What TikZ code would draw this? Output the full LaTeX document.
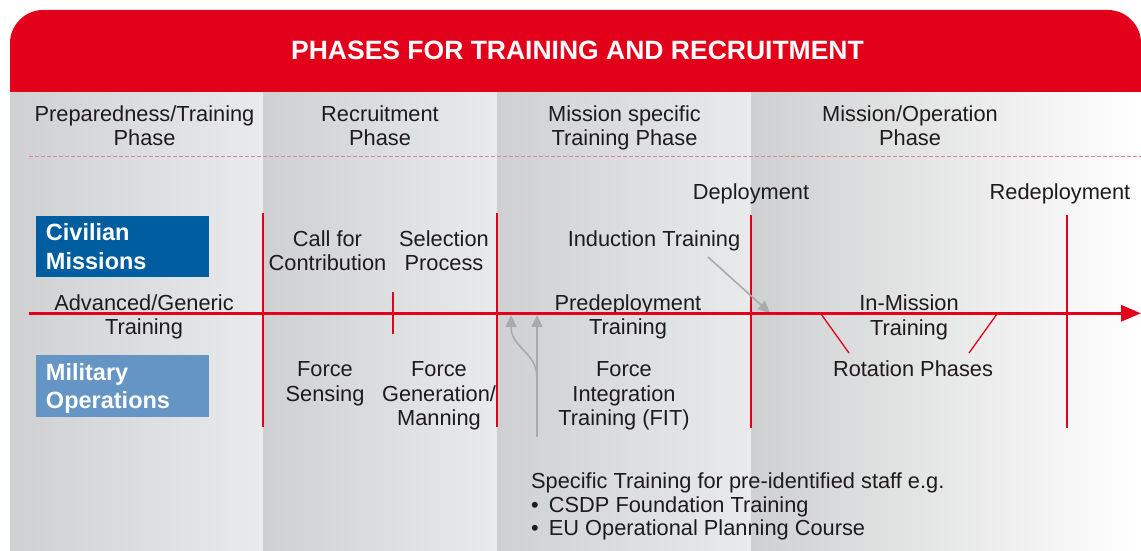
\documentclass[tikz,border=0pt]{standalone}
\usepackage{fontspec}
\setmainfont{Liberation Sans}
\usetikzlibrary{arrows.meta}
\definecolor{ecred}{HTML}{E2001A}
\definecolor{civblue}{HTML}{005DA0}
\definecolor{milblue}{HTML}{6595C4}
\definecolor{colA}{HTML}{CFD0D1}
\definecolor{colB}{HTML}{E9EAEB}
\definecolor{txtc}{HTML}{1F1B1C}
\definecolor{arrgray}{HTML}{A8AAAC}
\definecolor{dashred}{HTML}{E9808C}
\begin{document}
\begin{tikzpicture}[x=1bp,y=-1bp,
  lbl/.style={font=\fontsize{21.8bp}{24.5bp}\selectfont, text=txtc, inner sep=0pt, align=center},
  boxlbl/.style={font=\fontsize{23.5bp}{28.5bp}\selectfont\bfseries, text=white, align=left,
    inner xsep=10bp, inner ysep=0pt, text width=153bp, minimum width=173bp, minimum height=61bp},
  redline/.style={draw=ecred, line width=1.6bp},
  rotline/.style={draw=ecred, line width=1.3bp},
  grayarr/.style={draw=arrgray, line width=1.6bp, -{Triangle[length=12bp,width=11bp]}},
  axisarr/.style={draw=ecred, line width=3.2bp, -{Triangle[length=20bp,width=16bp]}},
]
\useasboundingbox (0,0) rectangle (1141,551);
\fill[white] (0,0) rectangle (1141,551);
% column backgrounds
\shade[left color=colA, right color=colB] (10,92) rectangle (263,551);
\shade[left color=colA, right color=colB] (263,92) rectangle (497,551);
\shade[left color=colA, right color=colB] (497,92) rectangle (751,551);
\shade[left color=colA, right color=white] (751,92) rectangle (1141,551);
% header band
\fill[ecred] (10,92) -- (10,43) .. controls (10,25) and (25,10) .. (43,10) -- (1108,10)
  .. controls (1126,10) and (1141,25) .. (1141,43) -- (1141,92) -- cycle;
\node[font=\fontsize{26.5bp}{30bp}\selectfont\bfseries, text=white, anchor=base, inner sep=0pt] (title) at (577.5,60) {PHASES FOR TRAINING AND RECRUITMENT};
% phase headings
\node[lbl] (ph1) at (144.5,125.5) {Preparedness/Training\\Phase};
\node[lbl] (ph2) at (380,125.5) {Recruitment\\Phase};
\node[lbl] (ph3) at (624.5,127.8) {Mission specific\\Training Phase};
\node[lbl] (ph4) at (910,125.5) {Mission/Operation\\Phase};
\draw[dashred, line width=0.8bp, dash pattern=on 4bp off 2bp] (29,156) -- (1141,156);
% milestones
\node[lbl, anchor=base] (dep) at (751,199.8) {Deployment};
\node[lbl, anchor=base] (redep) at (1060,199.8) {Redeployment};
% boxes
\node[boxlbl, fill=civblue] (civ) at (122.5,246.5) {Civilian\\Missions};
\node[boxlbl, fill=milblue] (mil) at (122.5,386) {\rule{0pt}{22bp}Military\\Operations};
% red vertical lines
\draw[redline] (263,213) -- (263,427);
\draw[redline] (497,213) -- (497,427);
\draw[redline] (751,215) -- (751,428);
\draw[redline] (1067,215) -- (1067,428);
\draw[redline] (393,292) -- (393,334);
% labels
\node[lbl, anchor=base] (ind) at (654,247) {Induction Training};
\node[lbl] (call) at (327.5,250.5) {Call for\\Contribution};
\node[lbl] (sel) at (444,250.5) {Selection\\Process};
\node[lbl] (adv) at (144,317) {Advanced/Generic\\Training};
\node[lbl] (pre) at (628,317) {Predeployment\\Training};
\node[lbl] (inm) at (909,317.3) {In-Mission\\Training};
\node[lbl] (fs) at (325,383.8) {Force\\Sensing};
\node[lbl] (fg) at (439,395.8) {Force\\Generation/\\Manning};
\node[lbl] (fit) at (624,395.8) {Force\\Integration\\Training (FIT)};
\node[lbl, anchor=base] (rot) at (913,377) {Rotation Phases};
\node[lbl, align=left, anchor=west, font=\fontsize{21.8bp}{23.4bp}\selectfont] (spec) at (531,506.5) {Specific Training for pre-identified staff e.g.\\•\hspace{4bp} CSDP Foundation Training\\•\hspace{4bp} EU Operational Planning Course};
% coordinates
\coordinate (axisL) at (29,313.3);
\coordinate (axisR) at (1141,313.3);
\coordinate (indS) at (708,257);
\coordinate (indT) at (770,313);
\coordinate (upS) at (537,437);
\coordinate (upT) at (537,315);
\coordinate (cvS) at (537,378);
\coordinate (cvT) at (511,315);
\coordinate (rotA) at (849,353);
\coordinate (rotAT) at (821,314);
\coordinate (rotB) at (969,353);
\coordinate (rotBT) at (997,314);
% gray arrows
\draw[grayarr] (indS) -- (indT);
\draw[grayarr] (upS) -- (upT);
\draw[grayarr] (cvS) .. controls (537,352) and (511,348) .. (cvT);
% rotation lines
\draw[rotline] (rotA) -- (rotAT);
\draw[rotline] (rotB) -- (rotBT);
% main axis
\draw[axisarr] (axisL) -- (axisR);
\end{tikzpicture}
\end{document}
